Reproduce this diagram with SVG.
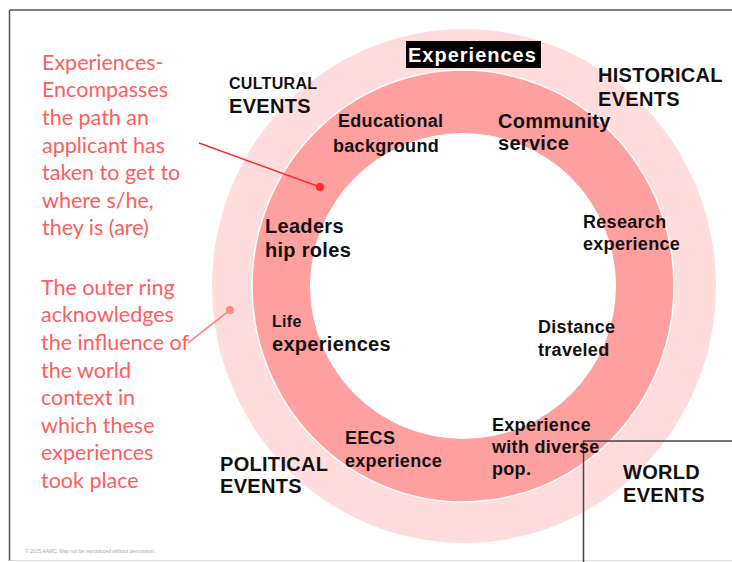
<svg xmlns="http://www.w3.org/2000/svg" width="732" height="562" viewBox="0 0 732 562">
<style>
.lbl{font-family:"Liberation Sans",Arial,sans-serif;font-weight:bold;fill:#111;letter-spacing:0.3px;}
.note{font-family:Lato,"Open Sans",sans-serif;fill:#FF5E5E;font-size:21.5px;}
.frame{stroke:#555;stroke-width:1.5;fill:none;}
</style>
<rect width="732" height="562" fill="#fff"/>
<g id="frame">
<line class="frame" x1="9.5" y1="10" x2="732" y2="10"/>
<line class="frame" x1="9.5" y1="10" x2="9.5" y2="561"/>
<line x1="9.5" y1="560.5" x2="732" y2="560.5" stroke="#ddd" stroke-width="1"/>
</g>
<g id="rings">
<ellipse id="outer-ring" cx="464" cy="286" rx="252" ry="257" fill="#FFDDDD"/>
<ellipse id="middle-ring" cx="463" cy="286" rx="211" ry="216" fill="#FFA0A0" stroke="#fff" stroke-width="1.5"/>
<ellipse id="inner-circle" cx="463" cy="286" rx="153" ry="153" fill="#fff"/>
</g>
<g id="title">
<rect x="406" y="41" width="135" height="27" fill="#000"/>
<text x="408" y="62" font-family="Liberation Sans,Arial,sans-serif" font-weight="bold" font-size="20" letter-spacing="1" fill="#fff">Experiences</text>
</g>
<g id="world-box">
<polyline points="583.5,562 583.5,441 732,441" fill="none" stroke="#444" stroke-width="1.5"/>
</g>
<g id="cultural-events" class="lbl">
<text x="229" y="89" font-size="16">CULTURAL</text>
<text x="229" y="113" font-size="20">EVENTS</text>
</g>
<g id="historical-events" class="lbl">
<text x="598" y="82" font-size="20">HISTORICAL</text>
<text x="598" y="106" font-size="20">EVENTS</text>
</g>
<g id="political-events" class="lbl">
<text x="220" y="471" font-size="20">POLITICAL</text>
<text x="220" y="493" font-size="20">EVENTS</text>
</g>
<g id="world-events" class="lbl">
<text x="623" y="479" font-size="20">WORLD</text>
<text x="623" y="502" font-size="20">EVENTS</text>
</g>
<g id="educational" class="lbl">
<text x="338" y="127" font-size="18">Educational</text>
<text x="333" y="152" font-size="18">background</text>
</g>
<g id="community" class="lbl">
<text x="498" y="128" font-size="20">Community</text>
<text x="498" y="150" font-size="20">service</text>
</g>
<g id="research" class="lbl">
<text x="583" y="228" font-size="18">Research</text>
<text x="583" y="250" font-size="18">experience</text>
</g>
<g id="leadership" class="lbl">
<text x="265" y="233" font-size="20">Leaders</text>
<text x="265" y="257" font-size="20">hip roles</text>
</g>
<g id="life" class="lbl">
<text x="272" y="327" font-size="16">Life</text>
<text x="272" y="351" font-size="20">experiences</text>
</g>
<g id="distance" class="lbl">
<text x="538" y="333" font-size="18">Distance</text>
<text x="538" y="356" font-size="18">traveled</text>
</g>
<g id="eecs" class="lbl">
<text x="345" y="444" font-size="18">EECS</text>
<text x="345" y="467" font-size="18">experience</text>
</g>
<g id="diverse" class="lbl">
<text x="492" y="431" font-size="18">Experience</text>
<text x="492" y="453" font-size="18">with diverse</text>
<text x="492" y="475" font-size="18">pop.</text>
</g>
<g id="note-experiences" class="note">
<text x="42" y="70">Experiences-</text>
<text x="42" y="97">Encompasses</text>
<text x="42" y="125">the path an</text>
<text x="42" y="153">applicant has</text>
<text x="42" y="180">taken to get to</text>
<text x="42" y="208">where s/he,</text>
<text x="42" y="235">they is (are)</text>
</g>
<g id="note-outer-ring" class="note">
<text x="41" y="295">The outer ring</text>
<text x="41" y="322">acknowledges</text>
<text x="41" y="350">the influence of</text>
<text x="41" y="378">the world</text>
<text x="41" y="405">context in</text>
<text x="41" y="433">which these</text>
<text x="41" y="460">experiences</text>
<text x="41" y="488">took place</text>
</g>
<g id="connectors">
<line x1="199" y1="143" x2="320" y2="187" stroke="#FF2A2A" stroke-width="1.6"/>
<circle cx="320" cy="187" r="4" fill="#FF2A2A"/>
<line x1="188" y1="343" x2="230" y2="310" stroke="#FF8A8A" stroke-width="1.6"/>
<circle cx="230" cy="310" r="4" fill="#FF8A8A"/>
</g>
<g id="footer">
<text x="25" y="553" font-family="Liberation Sans,Arial,sans-serif" font-size="5" fill="#aaa">© 2015 AAMC.  May not be reproduced without permission.</text>
</g>
</svg>
